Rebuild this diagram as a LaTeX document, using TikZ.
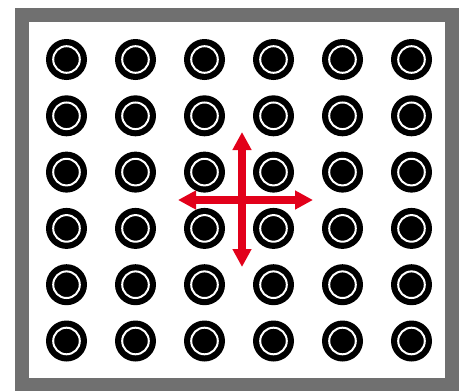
\documentclass[tikz,border=0pt]{standalone}
\usetikzlibrary{arrows.meta}
\definecolor{framegray}{HTML}{707070}
\definecolor{arrowred}{HTML}{E2001A}
\tikzset{
  dot/.style={circle, fill=black, inner sep=0pt, minimum size=41pt,
    path picture={\draw[white, line width=2pt] (path picture bounding box.center) circle (13.3pt);}},
  frame/.style={draw=framegray, line width=14pt},
  movearrow/.style={draw=arrowred, line width=8pt,
    {Triangle[length=18pt,width=18pt]}-{Triangle[length=18pt,width=18pt]}}
}
\begin{document}
\begin{tikzpicture}[x=1pt,y=-1pt]
\useasboundingbox (0,0) rectangle (464,391);
\begin{scope}
\clip (0,0) rectangle (464,391);
\draw[frame] (22,15) rectangle (451.5,385);
\end{scope}
\foreach \i in {0,...,5} {
  \foreach \j in {0,...,5} {
    \node[dot] (c\i\j) at ({66.5+69*\i},{59.5+56.3*\j}) {};
  }
}
\coordinate (up) at (242,132);
\coordinate (down) at (242,267);
\coordinate (left) at (178,200);
\coordinate (right) at (313,200);
\draw[movearrow] (up) -- (down);
\draw[movearrow] (left) -- (right);
\end{tikzpicture}
\end{document}
